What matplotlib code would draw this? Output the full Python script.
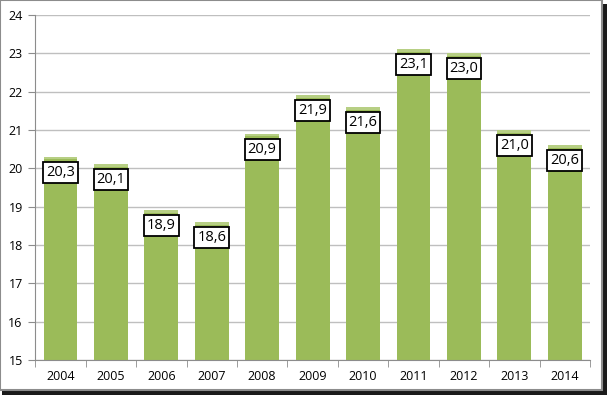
import matplotlib
matplotlib.use('Agg')
import matplotlib.pyplot as plt
from matplotlib.patches import Rectangle

years = ['2004', '2005', '2006', '2007', '2008', '2009', '2010', '2011', '2012', '2013', '2014']
values = [20.3, 20.1, 18.9, 18.6, 20.9, 21.9, 21.6, 23.1, 23.0, 21.0, 20.6]
labels = ['20,3', '20,1', '18,9', '18,6', '20,9', '21,9', '21,6', '23,1', '23,0', '21,0', '20,6']

plt.rcParams['font.family'] = ['Open Sans', 'DejaVu Sans']

fig = plt.figure(figsize=(6.07, 3.95), dpi=100)

# border and shadow
fig.patches.append(Rectangle((0.004, 0.0), 0.996, 0.99, transform=fig.transFigure,
                             facecolor='#1a1a1a', edgecolor='none', zorder=0))
fig.patches.append(Rectangle((0.0, 0.012), 0.992, 0.988, transform=fig.transFigure,
                             facecolor='white', edgecolor='#8c8c8c', linewidth=1.5, zorder=1))

ax = fig.add_axes([0.058, 0.089, 0.914, 0.873])
ax.set_zorder(2)
ax.patch.set_alpha(0)

x = range(len(years))
bars = ax.bar(x, [v - 15 for v in values], bottom=15, width=0.67, color='#9bbb59', zorder=2)
# lighter stripe on top of each bar
ax.bar(x, [0.07] * len(values), bottom=[v - 0.07 for v in values], width=0.67,
       color='#b7cf84', zorder=3)

for i, (v, lab) in enumerate(zip(values, labels)):
    ax.text(i, v - 0.4, lab, ha='center', va='center', fontsize=10.5, color='black', zorder=4,
            bbox=dict(boxstyle='square,pad=0.2', facecolor='white', edgecolor='black', linewidth=1.3))

ax.set_ylim(15, 24)
ax.set_xlim(-0.5, len(years) - 0.5)
ax.set_yticks(range(15, 25))
ax.yaxis.grid(True, color='#bfbfbf', linewidth=1, zorder=1)
ax.set_axisbelow(True)

ax.set_xticks(list(x))
ax.set_xticklabels(years)
ax.set_xticks([i - 0.5 for i in range(len(years) + 1)], minor=True)
ax.tick_params(axis='x', which='major', length=0, labelsize=9, pad=7)
ax.tick_params(axis='x', which='minor', length=5, color='#8c8c8c', direction='out')
ax.tick_params(axis='y', length=5, color='#8c8c8c', labelsize=9, pad=4)

for s in ['top', 'right']:
    ax.spines[s].set_visible(False)
for s in ['left', 'bottom']:
    ax.spines[s].set_color('#8c8c8c')

fig.savefig('out.png', dpi=100)
